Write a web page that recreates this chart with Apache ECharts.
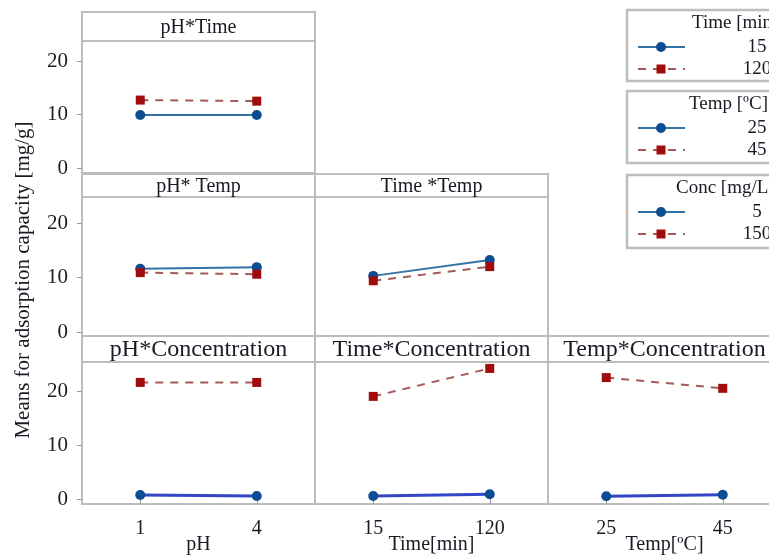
<!DOCTYPE html>
<html>
<head>
<meta charset="utf-8">
<script src="https://cdn.jsdelivr.net/npm/echarts@6/dist/echarts.min.js"></script>
<style>
html, body { margin: 0; padding: 0; background: #fff; }
#chart { width: 769px; height: 557px; }
</style>
</head>
<body>
<div id="chart"></div>
<script>
// factor levels
var phLevels = ['1', '4'];
var timeLevels = ['15', '120'];
var tempLevels = ['25', '45'];
var concLevels = ['5', '150'];
var yTicks = [0, 10, 20];

// means for adsorption capacity [mg/g]
var phTime15 = [9.9, 9.9];
var phTime120 = [12.7, 12.5];
var phTemp25 = [11.6, 11.9];
var phTemp45 = [10.9, 10.6];
var timeTemp25 = [10.3, 13.2];
var timeTemp45 = [9.4, 12.0];
var phConc5 = [0.75, 0.55];
var phConc150 = [21.7, 21.7];
var timeConc5 = [0.55, 0.9];
var timeConc150 = [19.1, 24.3];
var tempConc5 = [0.5, 0.8];
var tempConc150 = [22.6, 20.6];

var FONT = '"Liberation Serif", "DejaVu Serif", serif';
var TXT = '#1a1a24';
var BORDER = '#bdbdbd';

// rows / columns of the panel grid
var colLeft = [82, 315, 548];
var colWidth = 233;
var rows = [
	{ stripTop: 12, top: 41, height: 132, min: -0.93, max: 23.74, font: 20 },
	{ stripTop: 174, top: 197, height: 139, min: -0.73, max: 24.77, font: 20 },
	{ stripTop: 336, top: 362, height: 142, min: -0.93, max: 25.5, font: 24 }
];

var panels = [
	{ title: 'pH*Time', row: 0, col: 0, cats: phLevels, low: phTime15, high: phTime120 },
	{ title: 'pH* Temp', row: 1, col: 0, cats: phLevels, low: phTemp25, high: phTemp45 },
	{ title: 'Time *Temp', row: 1, col: 1, cats: timeLevels, low: timeTemp25, high: timeTemp45 },
	{ title: 'pH*Concentration', row: 2, col: 0, cats: phLevels, low: phConc5, high: phConc150, xName: 'pH' },
	{ title: 'Time*Concentration', row: 2, col: 1, cats: timeLevels, low: timeConc5, high: timeConc150, xName: 'Time[min]' },
	{ title: 'Temp*Concentration', row: 2, col: 2, cats: tempLevels, low: tempConc5, high: tempConc150, xName: 'Temp[ºC]' }
];

var legendBoxes = [
	{ title: 'Time [min]', levels: timeLevels, top: 10, height: 71, titleX: 692 },
	{ title: 'Temp [ºC]', levels: tempLevels, top: 91, height: 72, titleX: 689 },
	{ title: 'Conc [mg/L]', levels: concLevels, top: 175, height: 73, titleX: 676 }
];

var grids = [], xAxes = [], yAxes = [], series = [], graphics = [];

panels.forEach(function (p, i) {
	var r = rows[p.row];
	var bottomRow = p.row === 2;
	grids.push({
		left: colLeft[p.col], top: r.top, width: colWidth, height: r.height,
		show: true, borderColor: BORDER, borderWidth: 2, backgroundColor: '#fff',
		outerBoundsMode: 'none'
	});
	xAxes.push({
		type: 'category', gridIndex: i, data: p.cats, boundaryGap: true,
		axisLine: { show: false },
		axisTick: { show: bottomRow, alignWithLabel: true, length: 5, lineStyle: { color: '#999' } },
		axisLabel: { show: bottomRow, margin: 15, fontFamily: FONT, fontSize: 20, color: TXT },
		name: p.xName || '', nameLocation: 'middle', nameGap: 31, nameMoveOverlap: false,
		nameTextStyle: { fontFamily: FONT, fontSize: 20, color: TXT },
		splitLine: { show: false }
	});
	yAxes.push({
		type: 'value', gridIndex: i, min: r.min, max: r.max, show: p.col === 0,
		axisLine: { show: false },
		axisTick: { show: true, length: 5, customValues: yTicks, lineStyle: { color: '#999' } },
		axisLabel: { margin: 14, customValues: yTicks, fontFamily: FONT, fontSize: 21, color: TXT },
		splitLine: { show: false }
	});
	series.push({
		type: 'line', xAxisIndex: i, yAxisIndex: i, data: p.low,
		symbol: 'circle', symbolSize: 10,
		itemStyle: { color: '#0b4c93' },
		lineStyle: { color: bottomRow ? '#3346c8' : '#3473a6', width: bottomRow ? 3 : 2 }
	});
	series.push({
		type: 'line', xAxisIndex: i, yAxisIndex: i, data: p.high,
		symbol: 'rect', symbolSize: 9,
		itemStyle: { color: '#a00c0c' },
		lineStyle: { color: '#a65959', width: 2, type: [8, 7] }
	});
	// strip with the panel title
	graphics.push({
		type: 'rect', shape: { x: colLeft[p.col], y: r.stripTop, width: colWidth, height: r.top - r.stripTop },
		style: { fill: '#fff', stroke: BORDER, lineWidth: 2 }
	});
	graphics.push({
		type: 'text', x: colLeft[p.col] + colWidth / 2, y: (r.stripTop + r.top) / 2 + 1,
		style: { text: p.title, fontFamily: FONT, fontSize: r.font, fill: TXT, textAlign: 'center', textVerticalAlign: 'middle' }
	});
});

// y axis title
graphics.push({
	type: 'text', x: 23, y: 280, rotation: Math.PI / 2,
	style: { text: 'Means for adsorption capacity [mg/g]', fontFamily: FONT, fontSize: 21, fill: TXT, textAlign: 'center', textVerticalAlign: 'middle' }
});

// legend boxes
legendBoxes.forEach(function (b) {
	graphics.push({
		type: 'rect', shape: { x: 627, y: b.top, width: 180, height: b.height },
		style: { fill: '#fff', stroke: BORDER, lineWidth: 2.5 }
	});
	graphics.push({
		type: 'text', x: b.titleX, y: b.top + 13,
		style: { text: b.title, fontFamily: FONT, fontSize: 19, fill: TXT, textAlign: 'left', textVerticalAlign: 'middle' }
	});
	var y1 = b.top + 37, y2 = b.top + 59;
	graphics.push({ type: 'line', shape: { x1: 638, y1: y1, x2: 685, y2: y1 }, style: { stroke: '#3473a6', lineWidth: 2 } });
	graphics.push({ type: 'circle', shape: { cx: 661, cy: y1, r: 5 }, style: { fill: '#0b4c93' } });
	graphics.push({ type: 'line', shape: { x1: 638, y1: y2, x2: 685, y2: y2 }, style: { stroke: '#a65959', lineWidth: 2, lineDash: [8, 7] } });
	graphics.push({ type: 'rect', shape: { x: 656.5, y: y2 - 4.5, width: 9, height: 9 }, style: { fill: '#a00c0c' } });
	graphics.push({
		type: 'text', x: 757, y: y1,
		style: { text: b.levels[0], fontFamily: FONT, fontSize: 19, fill: TXT, textAlign: 'center', textVerticalAlign: 'middle' }
	});
	graphics.push({
		type: 'text', x: 757, y: y2,
		style: { text: b.levels[1], fontFamily: FONT, fontSize: 19, fill: TXT, textAlign: 'center', textVerticalAlign: 'middle' }
	});
});

var myChart = echarts.init(document.getElementById('chart'));
myChart.setOption({
	animation: false,
	backgroundColor: '#fff',
	grid: grids,
	xAxis: xAxes,
	yAxis: yAxes,
	series: series,
	graphic: { elements: graphics }
});
</script>
</body>
</html>
